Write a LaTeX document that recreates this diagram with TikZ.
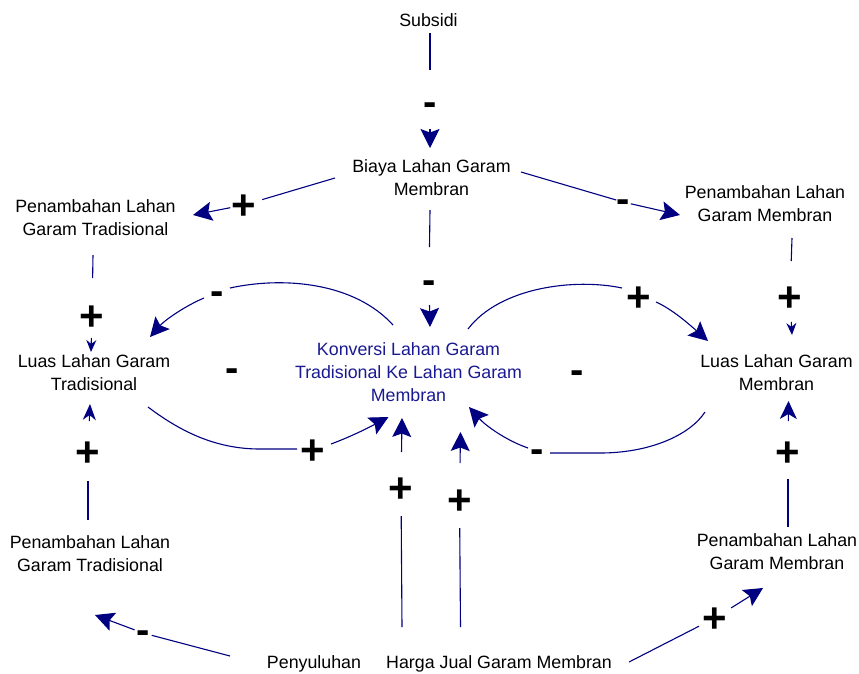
\documentclass[tikz,border=0pt]{standalone}
\usepackage{fontspec}
\setmainfont{Liberation Sans}
\usetikzlibrary{arrows.meta}
\definecolor{lnk}{RGB}{0,0,128}
\definecolor{konvc}{RGB}{25,25,145}
\begin{document}
\begin{tikzpicture}[x=1pt,y=-1pt,
 txt/.style={font=\fontsize{17.8}{23}\selectfont, align=center, inner sep=0pt, text=black},
 pl/.style={font=\fontsize{42}{42}\selectfont\bfseries, inner sep=0pt, text height=29.4pt, text depth=0pt},
 mi/.style={font=\fontsize{40}{40}\selectfont\bfseries, inner sep=0pt, text height=20.8pt, text depth=0pt},
 link/.style={draw=lnk, line width=1.1pt},
 big/.style={link, -{Stealth[length=19pt,width=19pt,inset=3.5pt]}},
 small/.style={link, -{Stealth[length=12pt,width=10pt,inset=4pt]}},
 medl/.style={link, -{Stealth[length=16pt,width=13pt,inset=5pt]}},
 medr/.style={link, -{Stealth[length=18pt,width=17pt,inset=5pt]}}
]
\useasboundingbox (0,0) rectangle (859,673);

% variables
\node[txt] (subsidi) at (428.5,20) {Subsidi};
\node[txt] (biaya) at (431.5,178) {Biaya Lahan Garam\\Membran};
\node[txt] (pentl) at (95.5,217.5) {Penambahan Lahan\\Garam Tradisional};
\node[txt] (pentr) at (765,204) {Penambahan Lahan\\Garam Membran};
\node[txt] (luast) at (94,373) {Luas Lahan Garam\\Tradisional};
\node[txt, text=konvc] (konv) at (408.5,372.5) {Konversi Lahan Garam\\Tradisional Ke Lahan Garam\\Membran};
\node[txt] (luasm) at (776.5,373) {Luas Lahan Garam\\Membran};
\node[txt] (penbl) at (90,554) {Penambahan Lahan\\Garam Tradisional};
\node[txt] (penbr) at (777,551.5) {Penambahan Lahan\\Garam Membran};
\node[txt] (penyul) at (314,664) {Penyuluhan};
\node[txt] (harga) at (499,664) {Harga Jual Garam Membran};

% polarity signs
\node[mi] (s1) at (430,105) {-};
\node[pl] (s2) at (244,205) {+};
\node[mi] (s3) at (623,202) {-};
\node[mi] (s4) at (429,283) {-};
\node[pl] (s5) at (92,316) {+};
\node[pl] (s6) at (790,297) {+};
\node[mi] (s7) at (217,294) {-};
\node[pl] (s8) at (313,450) {+};
\node[pl] (s9) at (639,297) {+};
\node[mi] (s10) at (537,452) {-};
\node[pl] (s11) at (88,452) {+};
\node[pl] (s12) at (788,452) {+};
\node[pl] (s13) at (401,488) {+};
\node[pl] (s14) at (459.5,500) {+};
\node[mi] (s15) at (143,633) {-};
\node[pl] (s16) at (715,618) {+};
\node[mi] (l1) at (232,371) {-};
\node[mi] (l2) at (577,373) {-};

% Subsidi -> Biaya
\draw[link, shorten >=35pt] ([shift={(1.5,13)}]subsidi.center) -- (s1.center);
\draw[big, shorten <=24pt] (s1.center) -- ([shift={(-1.5,-30)}]biaya.center);
% Biaya -> Penambahan (trad, top)
\draw[link, shorten >=19pt] ([shift={(-96.5,0)}]biaya.center) -- (s2.center);
\draw[big, shorten <=14pt] (s2.center) -- ([shift={(97.5,-2.5)}]pentl.center);
% Biaya -> Penambahan (membran, top)
\draw[link, shorten >=7pt] ([shift={(89.5,-6)}]biaya.center) -- (s3.center);
\draw[big, shorten <=8pt] (s3.center) -- ([shift={(-85,11)}]pentr.center);
% Biaya -> Konversi
\draw[link, shorten >=36pt] ([shift={(-1.5,32)}]biaya.center) -- (s4.center);
\draw[big, shorten <=22pt] (s4.center) -- ([shift={(21.5,-45.5)}]konv.center);
% Penambahan trad -> Luas trad
\draw[link, shorten >=38pt] ([shift={(-2.5,37.5)}]pentl.center) -- (s5.center);
\draw[small, shorten <=22pt] (s5.center) -- ([shift={(-3,-21)}]luast.center);
% Penambahan membran -> Luas membran
\draw[link, shorten >=36pt] ([shift={(27,34)}]pentr.center) -- (s6.center);
\draw[small, shorten <=25pt] (s6.center) -- ([shift={(15.5,-38)}]luasm.center);
% Penambahan trad (bottom) -> Luas trad
\draw[link, shorten >=29pt] ([shift={(-2,-34)}]penbl.center) -- (s11.center);
\draw[medl, shorten <=31pt] (s11.center) -- ([shift={(-4,31)}]luast.center);
% Penambahan membran (bottom) -> Luas membran
\draw[link, shorten >=27pt] ([shift={(11,-24.5)}]penbr.center) -- (s12.center);
\draw[medr, shorten <=31pt] (s12.center) -- ([shift={(12,28)}]luasm.center);
% Penyuluhan -> Konversi
\draw[link, shorten >=28pt] ([shift={(88,-37)}]penyul.center) -- (s13.center);
\draw[big, shorten <=36pt] (s13.center) -- ([shift={(-6.5,45.5)}]konv.center);
% Harga -> Konversi
\draw[link, shorten >=28pt] ([shift={(-38.5,-37)}]harga.center) -- (s14.center);
\draw[big, shorten <=37pt] (s14.center) -- ([shift={(52,59.5)}]konv.center);
% Penyuluhan -> Penambahan trad (bottom)
\draw[link, shorten >=9pt] ([shift={(-84,-8)}]penyul.center) -- (s15.center);
\draw[big, shorten <=9pt] (s15.center) -- ([shift={(5,61)}]penbl.center);
% Harga -> Penambahan membran (bottom)
\draw[link, shorten >=18pt] ([shift={(130,-2)}]harga.center) -- (s16.center);
\draw[big, shorten <=19pt] (s16.center) -- ([shift={(-14,36.5)}]penbr.center);

% Konversi -> Luas trad (upper left loop)
\draw[link] ([shift={(-15.5,-47.5)}]konv.center) .. controls (355,283) and (285,276) .. ([shift={(13,-6)}]s7.center);
\draw[big] ([shift={(-13,4)}]s7.center) .. controls (185,306) and (165,320) .. ([shift={(56,-36)}]luast.center);
% Luas trad -> Konversi (lower left loop)
\draw[link] ([shift={(54,34)}]luast.center) .. controls (185,435) and (220,449) .. (260,449) -- ([shift={(-16,-1)}]s8.center);
\draw[big] ([shift={(18,-6)}]s8.center) .. controls (350,437) and (368,428) .. ([shift={(-20,44.5)}]konv.center);
% Konversi -> Luas membran (upper right loop)
\draw[link] ([shift={(59.5,-43.5)}]konv.center) .. controls (500,287) and (575,278) .. ([shift={(-17,-9)}]s9.center);
\draw[big] ([shift={(17,5)}]s9.center) .. controls (672,309) and (690,325) .. ([shift={(-68.5,-32)}]luasm.center);
% Luas membran -> Konversi (lower right loop)
\draw[link] ([shift={(-71.5,39)}]luasm.center) .. controls (690,435) and (650,453) .. (600,453) -- ([shift={(13,1)}]s10.center);
\draw[big] ([shift={(-9,-4)}]s10.center) .. controls (505,440) and (485,425) .. ([shift={(60.5,34.5)}]konv.center);
\end{tikzpicture}
\end{document}
